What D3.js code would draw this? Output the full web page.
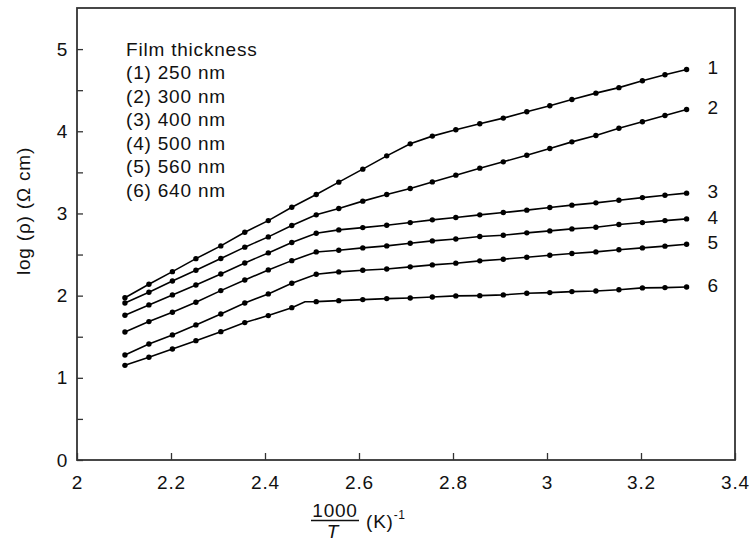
<!DOCTYPE html>
<html>
<head>
<meta charset="utf-8">
<script src="https://cdn.jsdelivr.net/npm/d3@7"></script>
<style>
  body { margin: 0; background: #fff; }
  svg text { font-family: "Liberation Sans", Arial, Helvetica, sans-serif; font-size: 19px; letter-spacing: 0.8px; fill: #111; }
</style>
</head>
<body>
<svg id="chart" width="749" height="542"></svg>
<script>
// 1000/T values of the measured points (same for every film)
const invTemp = [2.102, 2.153, 2.203, 2.253, 2.306, 2.357, 2.407, 2.457, 2.509, 2.557,
                 2.608, 2.659, 2.709, 2.756, 2.806, 2.857, 2.907, 2.957, 3.006, 3.053,
                 3.104, 3.153, 3.203, 3.251, 3.297];

// log(rho) for each film thickness
const film250 = [1.975, 2.139, 2.292, 2.450, 2.605, 2.772, 2.913, 3.076, 3.230, 3.381,
                 3.539, 3.701, 3.847, 3.941, 4.018, 4.091, 4.160, 4.237, 4.310, 4.386,
                 4.464, 4.531, 4.614, 4.687, 4.752];
const film300 = [1.910, 2.042, 2.179, 2.309, 2.451, 2.590, 2.715, 2.853, 2.983, 3.060,
                 3.150, 3.230, 3.303, 3.384, 3.466, 3.551, 3.628, 3.709, 3.790, 3.871,
                 3.948, 4.036, 4.115, 4.192, 4.265];
const film400 = [1.761, 1.887, 2.009, 2.130, 2.264, 2.398, 2.520, 2.646, 2.760, 2.800,
                 2.828, 2.857, 2.889, 2.922, 2.950, 2.983, 3.011, 3.040, 3.072, 3.101,
                 3.129, 3.160, 3.193, 3.222, 3.247];
const film500 = [1.558, 1.684, 1.798, 1.920, 2.061, 2.190, 2.313, 2.426, 2.532, 2.553,
                 2.581, 2.605, 2.638, 2.666, 2.690, 2.719, 2.735, 2.764, 2.788, 2.812,
                 2.833, 2.865, 2.889, 2.913, 2.934];
const film560 = [1.277, 1.412, 1.522, 1.644, 1.777, 1.910, 2.021, 2.151, 2.261, 2.289,
                 2.309, 2.325, 2.350, 2.374, 2.395, 2.423, 2.443, 2.468, 2.492, 2.512,
                 2.532, 2.558, 2.581, 2.602, 2.626];
const film640 = [1.152, 1.250, 1.351, 1.452, 1.562, 1.672, 1.757, 1.854, 1.927, 1.939,
                 1.952, 1.964, 1.972, 1.984, 1.997, 2.000, 2.009, 2.029, 2.037, 2.049,
                 2.057, 2.072, 2.094, 2.098, 2.106];

const allSeries = [film250, film300, film400, film500, film560, film640];
const seriesLabels = ["1", "2", "3", "4", "5", "6"];
const legendTitle = "Film thickness";
const legendLines = ["(1) 250 nm", "(2) 300 nm", "(3) 400 nm", "(4) 500 nm", "(5) 560 nm", "(6) 640 nm"];

// bend in curve 6 that has no marker
const kinkSeries = 5;
const kinkPoint = [2.485, 1.926];

const xTicks = [2, 2.2, 2.4, 2.6, 2.8, 3, 3.2, 3.4];
const yTicks = [0, 0.5, 1, 1.5, 2, 2.5, 3, 3.5, 4, 4.5, 5];

const margin = { top: 8, right: 14, bottom: 82, left: 77 };
const width = 749 - margin.left - margin.right;
const height = 542 - margin.top - margin.bottom;

const svg = d3.select('#chart');
const g = svg.append('g').attr('transform', `translate(${margin.left},${margin.top})`);

const xScale = d3.scaleLinear().domain([2, 3.4]).range([0, width]);
const yScale = d3.scaleLinear().domain([0, 5.5]).range([height, 0]);

const xAxis = d3.axisBottom(xScale)
  .tickValues(xTicks)
  .tickSize(-7)
  .tickPadding(16)
  .tickFormat(d => d3.format('')(+d.toFixed(1)));

const yAxis = d3.axisLeft(yScale)
  .tickValues(yTicks)
  .tickSize(-6)
  .tickPadding(9)
  .tickFormat(d => Number.isInteger(d) ? d : '');

const xAxisG = g.append('g')
  .attr('transform', `translate(0,${height})`)
  .call(xAxis);
const yAxisG = g.append('g').call(yAxis);

[xAxisG, yAxisG].forEach(a => {
  a.select('.domain').remove();
  a.selectAll('.tick line').attr('stroke', '#333').attr('stroke-width', 1.3);
  a.selectAll('.tick text').attr('fill', '#111').style('font-size', '19px');
});

// frame
g.append('rect')
  .attr('x', 0).attr('y', 0)
  .attr('width', width).attr('height', height)
  .attr('fill', 'none')
  .attr('stroke', '#333')
  .attr('stroke-width', 1.8);

const line = d3.line()
  .x(d => xScale(d[0]))
  .y(d => yScale(d[1]));

allSeries.forEach((vals, i) => {
  let pts = invTemp.map((x, j) => [x, vals[j]]);
  if (i === kinkSeries) {
    pts = pts.concat([kinkPoint]).sort((a, b) => a[0] - b[0]);
  }
  g.append('path')
    .datum(pts)
    .attr('fill', 'none')
    .attr('stroke', '#000')
    .attr('stroke-width', 1.6)
    .attr('d', line);

  g.append('g')
    .selectAll('circle')
    .data(invTemp.map((x, j) => [x, vals[j]]))
    .enter()
    .append('circle')
    .attr('cx', d => xScale(d[0]))
    .attr('cy', d => yScale(d[1]))
    .attr('r', 2.7)
    .attr('fill', '#000');

  const last = vals[vals.length - 1];
  g.append('text')
    .attr('x', xScale(invTemp[invTemp.length - 1]) + 21)
    .attr('y', yScale(last) - 2)
    .attr('dy', '0.35em')
    .text(seriesLabels[i]);
});

// legend
const legend = g.append('g').attr('transform', 'translate(49,0)');
legend.append('text').attr('x', 0).attr('y', 47.5).text(legendTitle);
legend.selectAll('text.item')
  .data(legendLines)
  .enter()
  .append('text')
  .attr('class', 'item')
  .attr('x', 0)
  .attr('y', (d, i) => 71 + i * 23.5)
  .text(d => d);

// y axis label
svg.append('text')
  .attr('transform', 'translate(29.5,211) rotate(-90)')
  .attr('text-anchor', 'middle')
  .text('log (\u03C1) (\u03A9 cm)');

// x axis label: 1000/T (K)^-1
const xl = svg.append('g');
xl.append('text')
  .attr('x', 335).attr('y', 516.5)
  .attr('text-anchor', 'middle')
  .text('1000');
xl.append('line')
  .attr('x1', 311).attr('x2', 359)
  .attr('y1', 520.5).attr('y2', 520.5)
  .attr('stroke', '#111').attr('stroke-width', 1.3);
xl.append('text')
  .attr('x', 333).attr('y', 538)
  .attr('text-anchor', 'middle')
  .style('font-style', 'italic')
  .text('T');
const kt = xl.append('text').attr('x', 366).attr('y', 528);
kt.append('tspan').text('(K)');
kt.append('tspan').attr('dy', -9).style('font-size', '12px').style('letter-spacing', '0.5px').text('-1');
</script>
</body>
</html>
